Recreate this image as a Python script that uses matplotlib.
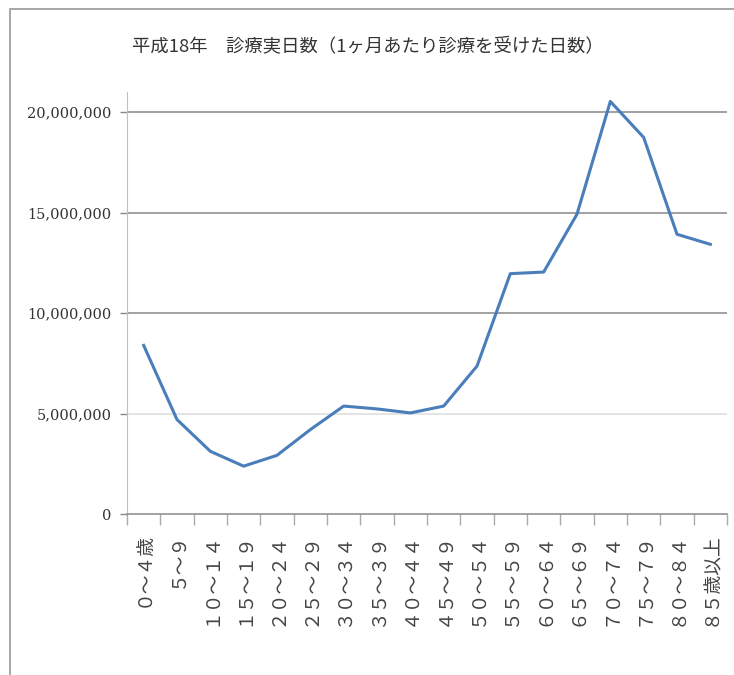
import matplotlib.pyplot as plt
from matplotlib.patches import Rectangle
from matplotlib.ticker import FuncFormatter, MultipleLocator

# 年齢階級ごとの診療実日数 (平成18年)
AGE_LABELS = [
    "０～４歳", "５～９", "１０～１４", "１５～１９", "２０～２４", "２５～２９",
    "３０～３４", "３５～３９", "４０～４４", "４５～４９", "５０～５４", "５５～５９",
    "６０～６４", "６５～６９", "７０～７４", "７５～７９", "８０～８４", "８５歳以上",
]
DAYS = [
    8390000, 4700000, 3120000, 2380000, 2920000, 4200000,
    5370000, 5230000, 5030000, 5370000, 7360000, 11960000,
    12040000, 14920000, 20530000, 18740000, 13920000, 13420000,
]
Y_TICKS = [0, 5000000, 10000000, 15000000, 20000000]

JP = ['Noto Sans CJK JP', 'DejaVu Sans']

W, H = 734, 675
fig = plt.figure(figsize=(W / 100, H / 100), dpi=100)
fig.patch.set_facecolor('white')

# outer frame of the chart area
fig.patches.append(Rectangle((10 / W, -0.05), 1.2, (H - 9) / H + 0.05,
                             transform=fig.transFigure, fill=False,
                             edgecolor='#a0a0a0', linewidth=1.3))

ax = fig.add_axes([127 / W, (H - 514) / H, 600 / W, (514 - 92) / H])

x = list(range(len(DAYS)))
ax.plot(x, DAYS, color='#4a7ebb', linewidth=2.2, solid_joinstyle='round')

ax.set_xlim(-0.5, len(DAYS) - 0.5)
ax.set_ylim(0, 21000000)

ax.set_yticks(Y_TICKS)
ax.yaxis.set_major_formatter(FuncFormatter(lambda v, p: f"{int(v):,}"))
for lab in ax.get_yticklabels():
    lab.set_family('DejaVu Serif')
ax.tick_params(axis='y', length=5, width=1, color='#888888', pad=6,
               labelsize=10.5, labelcolor='#333333')

ax.set_xticks(x)
ax.set_xticklabels(AGE_LABELS, rotation=90, family=JP, fontsize=13.5,
                   color='#444444', va='top', ha='center')
ax.xaxis.set_minor_locator(MultipleLocator(1, offset=0.5))
ax.tick_params(axis='x', which='major', length=0, pad=13)
ax.tick_params(axis='x', which='minor', length=8, width=1, color='#aaaaaa')

ax.yaxis.grid(True, color='#888888', linewidth=1.1)
ax.set_axisbelow(True)
gl = ax.get_ygridlines()
gl[1].set_color('#dddddd')
gl[0].set_visible(False)

for s in ['top', 'right']:
    ax.spines[s].set_visible(False)
ax.spines['left'].set_color('#c0c0c0')
ax.spines['bottom'].set_color('#888888')
ax.spines['bottom'].set_linewidth(1.1)

fig.text(368 / W, (H - 47) / H,
         "平成18年　診療実日数（1ヶ月あたり診療を受けた日数）",
         family=JP, fontsize=13.2, color='#333333', ha='center', va='center')

fig.savefig('out.png', dpi=100, facecolor='white')
